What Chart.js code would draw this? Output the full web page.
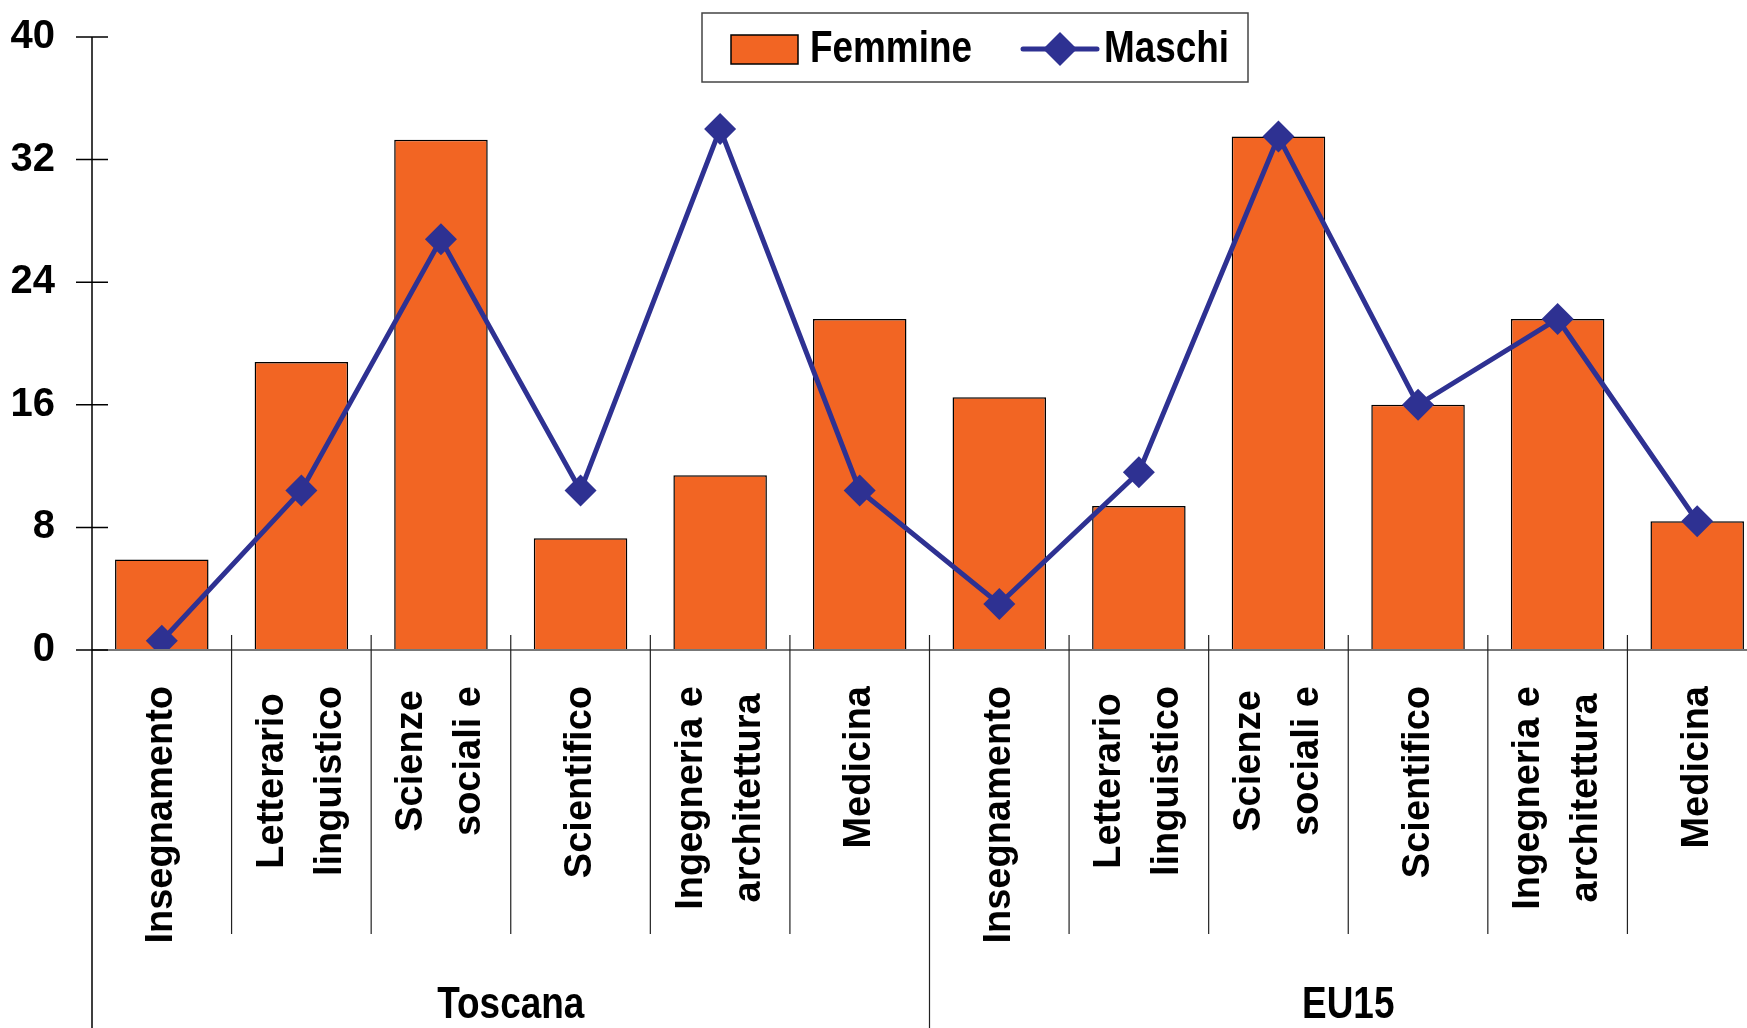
<!DOCTYPE html>
<html>
<head>
<meta charset="utf-8">
<title>Femmine e Maschi per gruppo di corsi</title>
<script src="https://cdn.jsdelivr.net/npm/chart.js@4.4.1/dist/chart.umd.min.js"></script>
<style>
  html, body { margin: 0; padding: 0; background: #fff; overflow: hidden; }
  canvas { display: block; }
</style>
</head>
<body>
<canvas id="chart" width="1767" height="1028" style="width:1767px;height:1028px"></canvas>
<script>
// data
const regions = ['Toscana', 'EU15'];
const fields = ['Insegnamento', ['Letterario', 'linguistico'], ['Scienze', 'sociali e'],
  'Scientifico', ['Ingegneria e', 'architettura'], 'Medicina'];
const femmine = [5.9, 18.8, 33.3, 7.3, 11.4, 21.6, 16.5, 9.4, 33.5, 16.0, 21.6, 8.4];
const maschi = [0.6, 10.4, 26.8, 10.4, 34.0, 10.4, 3.0, 11.6, 33.5, 16.0, 21.6, 8.4];
const yTicks = [0, 8, 16, 24, 32, 40];

const ORANGE = 'rgb(242, 101, 35)';
const NAVY = 'rgb(46, 49, 146)';
const FONT = '"Liberation Sans", Arial, sans-serif';

const labels = [];
regions.forEach(() => fields.forEach(f => labels.push(f)));

// narrow bold text (Arial Narrow look) by squeezing horizontally
function narrowText(ctx, text, x, y, size, align) {
  ctx.save();
  ctx.font = 'bold ' + size + 'px ' + FONT;
  ctx.textBaseline = 'middle';
  ctx.textAlign = align || 'left';
  ctx.translate(x, y);
  ctx.scale(0.82, 1);
  ctx.fillStyle = '#000';
  ctx.fillText(text, 0, 0);
  ctx.restore();
}

const decor = {
  id: 'decor',
  afterDraw(chart) {
    const ctx = chart.ctx;
    const xs = chart.scales.x, ys = chart.scales.y;
    const area = chart.chartArea;
    const H = chart.height;
    const n = labels.length;
    const slot = (xs.getPixelForValue(1) - xs.getPixelForValue(0));
    ctx.save();

    // x axis line
    ctx.strokeStyle = '#777';
    ctx.lineWidth = 2;
    ctx.beginPath();
    ctx.moveTo(area.left, area.bottom);
    ctx.lineTo(area.right, area.bottom);
    ctx.stroke();

    // y axis line and ticks
    ctx.strokeStyle = '#000';
    ctx.lineWidth = 1.5;
    ctx.beginPath();
    ctx.moveTo(area.left, ys.getPixelForValue(yTicks[yTicks.length - 1]));
    ctx.lineTo(area.left, H);
    yTicks.forEach(v => {
      const y = ys.getPixelForValue(v);
      ctx.moveTo(area.left - 16, y);
      ctx.lineTo(area.left + 16, y);
    });
    ctx.stroke();

    // category dividers
    ctx.lineWidth = 1.2;
    ctx.strokeStyle = '#222';
    ctx.beginPath();
    for (let i = 0; i < n; i++) {
      const x = xs.getPixelForValue(i) + slot / 2;
      const groupEnd = (i + 1) % fields.length === 0;
      ctx.moveTo(x, area.bottom - 15);
      ctx.lineTo(x, groupEnd ? H : 934);
    }
    ctx.stroke();

    // rotated category labels
    ctx.fillStyle = '#000';
    ctx.font = 'bold 38px ' + FONT;
    ctx.textAlign = 'center';
    ctx.textBaseline = 'middle';
    const top = 686, gap = 58;
    for (let i = 0; i < n; i++) {
      const lines = [].concat(labels[i]);
      const w = Math.max(...lines.map(l => ctx.measureText(l).width));
      const x = xs.getPixelForValue(i);
      lines.forEach((l, j) => {
        ctx.save();
        ctx.translate(x + (j - (lines.length - 1) / 2) * gap, top + w / 2);
        ctx.rotate(-Math.PI / 2);
        ctx.fillText(l, 0, 0);
        ctx.restore();
      });
    }

    // group labels
    regions.forEach((r, g) => {
      const a = xs.getPixelForValue(g * fields.length);
      const b = xs.getPixelForValue((g + 1) * fields.length - 1);
      narrowText(ctx, r, (a + b) / 2, 1006, 45, 'center');
    });

    // legend
    ctx.fillStyle = '#fff';
    ctx.fillRect(702, 13, 546, 69);
    ctx.strokeStyle = '#444';
    ctx.lineWidth = 1.5;
    ctx.strokeRect(702, 13, 546, 69);
    ctx.fillStyle = ORANGE;
    ctx.fillRect(731, 35, 67, 29);
    ctx.strokeStyle = '#000';
    ctx.lineWidth = 1.5;
    ctx.strokeRect(731, 35, 67, 29);
    narrowText(ctx, chart.data.datasets[1].label, 810, 50, 45);
    ctx.strokeStyle = NAVY;
    ctx.lineWidth = 5;
    ctx.lineCap = 'round';
    ctx.beginPath();
    ctx.moveTo(1023, 49);
    ctx.lineTo(1097, 49);
    ctx.stroke();
    ctx.fillStyle = NAVY;
    ctx.beginPath();
    ctx.moveTo(1060, 32); ctx.lineTo(1077, 49); ctx.lineTo(1060, 66); ctx.lineTo(1043, 49);
    ctx.closePath();
    ctx.fill();
    narrowText(ctx, chart.data.datasets[0].label, 1104, 50, 45);

    ctx.restore();
  }
};

new Chart(document.getElementById('chart'), {
  type: 'bar',
  data: {
    labels: labels,
    datasets: [{
      type: 'line',
      label: 'Maschi',
      data: maschi,
      borderColor: NAVY,
      backgroundColor: NAVY,
      borderWidth: 5,
      tension: 0,
      pointStyle: 'rectRot',
      pointRadius: 16,
      pointBorderWidth: 0,
      pointBackgroundColor: NAVY,
      order: 0
    }, {
      label: 'Femmine',
      data: femmine,
      backgroundColor: ORANGE,
      borderColor: '#000',
      borderWidth: 1.5,
      categoryPercentage: 1,
      barPercentage: 0.67,
      order: 1
    }]
  },
  options: {
    responsive: false,
    animation: false,
    devicePixelRatio: 1,
    layout: { autoPadding: false, padding: { top: 37, left: 0, right: 0, bottom: 0 } },
    plugins: { legend: { display: false }, tooltip: { enabled: false } },
    scales: {
      x: {
        ticks: { display: false },
        grid: { display: false, drawTicks: false },
        border: { display: false },
        afterFit(scale) {
          scale.height = 378;
          scale.paddingLeft = 0; scale.paddingRight = 0;
        }
      },
      y: {
        min: 0,
        max: 40,
        afterBuildTicks(scale) { scale.ticks = yTicks.map(v => ({ value: v })); },
        ticks: {
          color: '#000',
          padding: 37,
          font: { family: FONT, size: 40, weight: 'bold' }
        },
        grid: { display: false, drawTicks: false },
        border: { display: false },
        afterFit(scale) {
          scale.width = 92;
          scale.paddingTop = 0; scale.paddingBottom = 0;
        }
      }
    }
  },
  plugins: [decor]
});
</script>
</body>
</html>
